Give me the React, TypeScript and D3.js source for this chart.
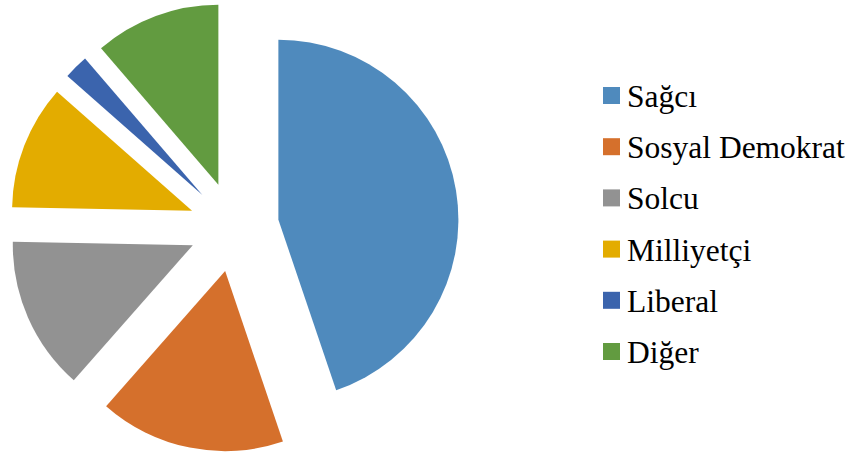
import React from "react";
import * as d3 from "d3";

const labels = ["Sağcı", "Sosyal Demokrat", "Solcu", "Milliyetçi", "Liberal", "Diğer"];
const values = [44.8, 16.7, 13.8, 11.2, 2.2, 11.3];
const colors = ["#4F8ABD", "#D5702C", "#929292", "#E3AC00", "#3B64AD", "#629B40"];

const W = 861;
const H = 456;
const cx = 234;
const cy = 227;
const radius = 180;
const explode = 45;

export default function App() {
  const pie = d3
    .pie<number>()
    .sort(null)
    .value((d) => d)
    .startAngle(0)
    .endAngle(2 * Math.PI);
  const arcs = pie(values);
  const arc = d3.arc<d3.PieArcDatum<number>>().innerRadius(0).outerRadius(radius);

  const legendY = d3.scalePoint<number>().domain(d3.range(labels.length)).range([95.5, 351.5]);

  return (
    <svg width={W} height={H} style={{ position: "absolute", left: 0, top: 0 }}>
      <g transform={`translate(${cx},${cy})`}>
        {arcs.map((a, i) => {
          const mid = (a.startAngle + a.endAngle) / 2;
          const dx = Math.sin(mid) * explode;
          const dy = -Math.cos(mid) * explode;
          return (
            <path
              key={labels[i]}
              d={arc(a) || ""}
              fill={colors[i]}
              transform={`translate(${dx},${dy})`}
            />
          );
        })}
      </g>
      <g style={{ fontFamily: '"Liberation Serif", "Times New Roman", "DejaVu Serif", serif' }}>
        {labels.map((l, i) => (
          <g key={l} transform={`translate(603,${legendY(i)})`}>
            <rect x={0} y={-8.5} width={17} height={17} fill={colors[i]} />
            <text x={24} y={11.5} fontSize={31.5} fill="#000">
              {l}
            </text>
          </g>
        ))}
      </g>
    </svg>
  );
}
